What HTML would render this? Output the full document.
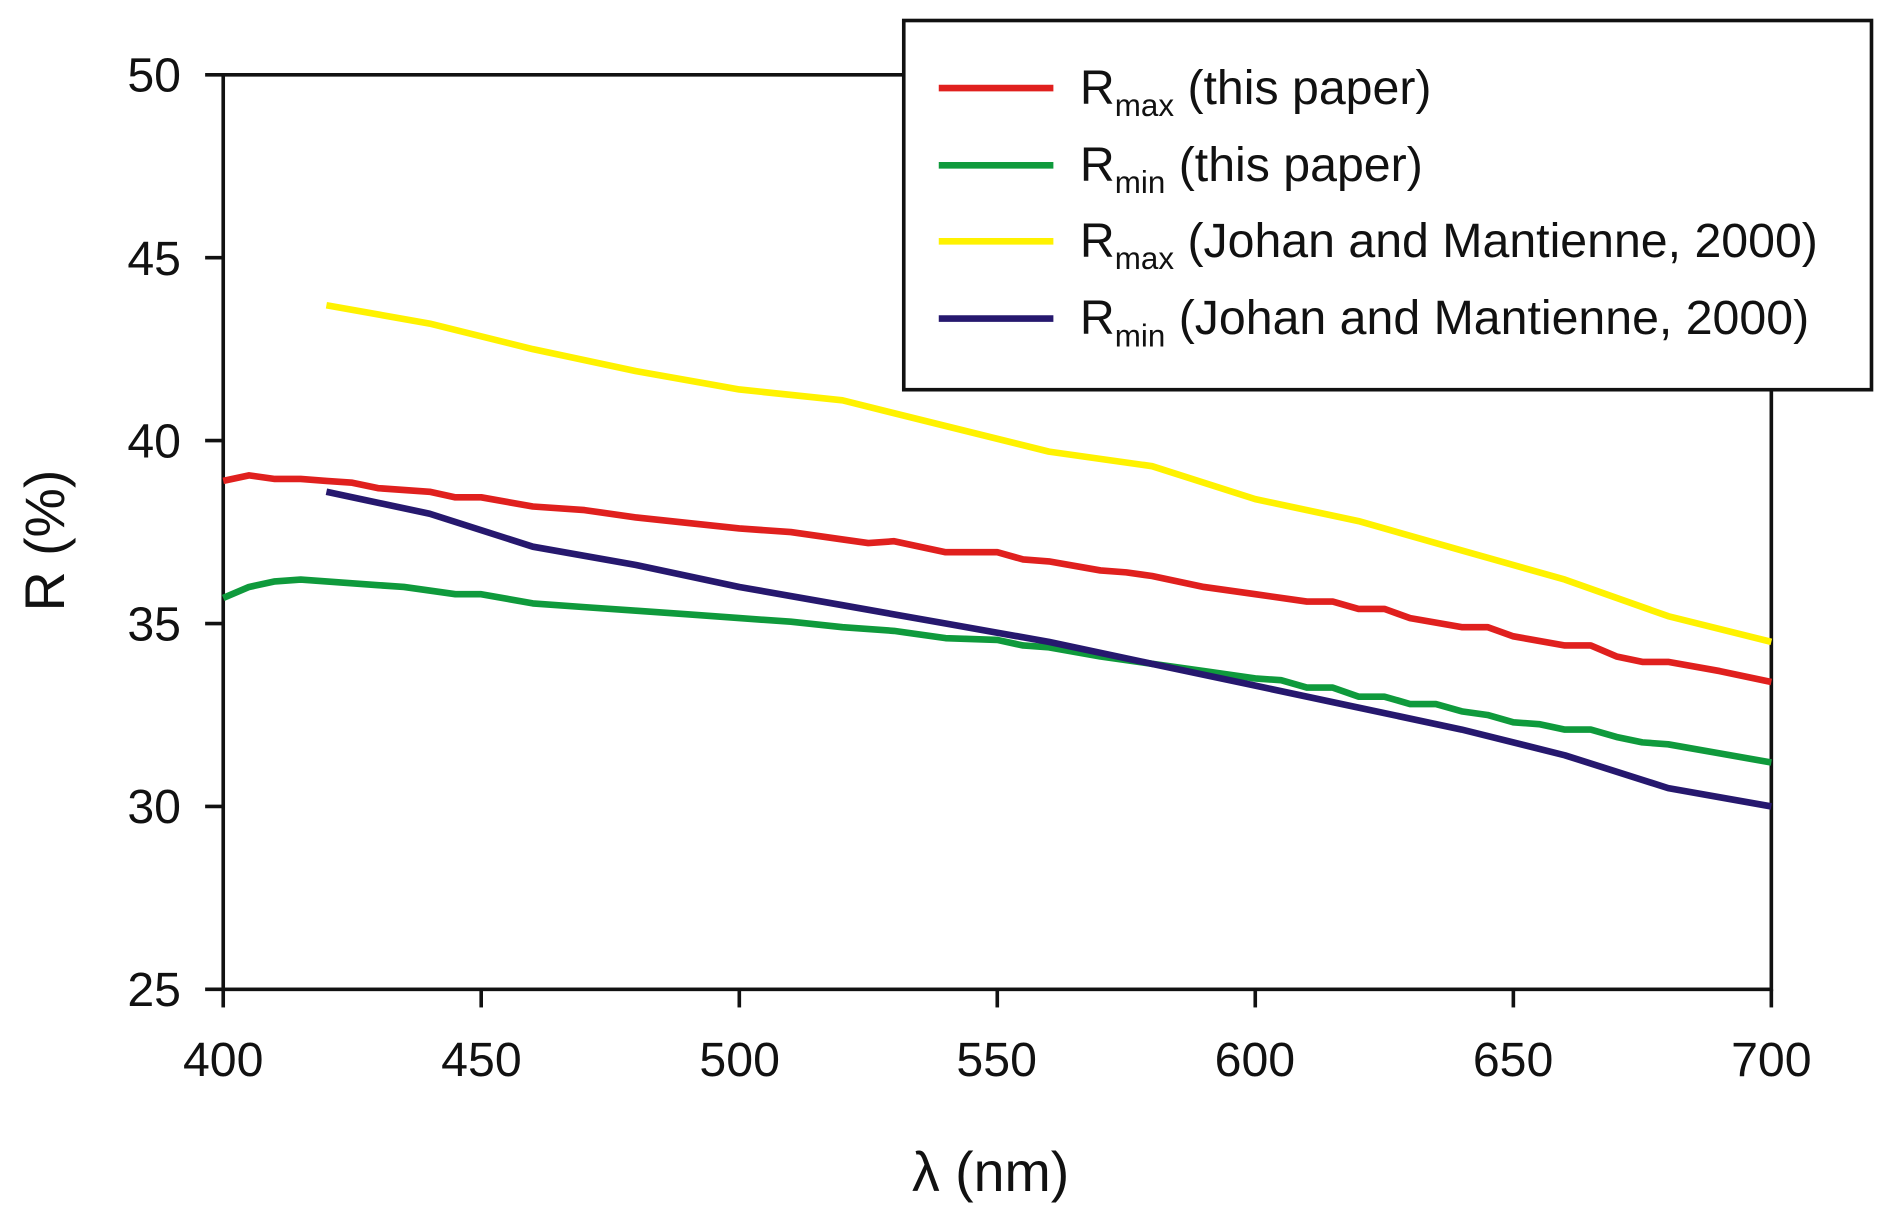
<!DOCTYPE html>
<html><head><style>html,body{margin:0;padding:0;background:#fff}svg{display:block}</style></head>
<body>
<svg id="s" width="1892" height="1221" viewBox="0 0 1568 1012" preserveAspectRatio="none" xmlns="http://www.w3.org/2000/svg" font-family="Liberation Sans, Arial, sans-serif">
<rect x="185" y="62" width="1283" height="758" fill="none" stroke="#111" stroke-width="3"/>
<g stroke="#111" stroke-width="3">
<line x1="170" y1="62" x2="185" y2="62"/><line x1="170" y1="213.6" x2="185" y2="213.6"/><line x1="170" y1="365.2" x2="185" y2="365.2"/><line x1="170" y1="516.8" x2="185" y2="516.8"/><line x1="170" y1="668.4" x2="185" y2="668.4"/><line x1="170" y1="820" x2="185" y2="820"/>
<line x1="185" y1="820" x2="185" y2="835"/><line x1="398.8" y1="820" x2="398.8" y2="835"/><line x1="612.7" y1="820" x2="612.7" y2="835"/><line x1="826.5" y1="820" x2="826.5" y2="835"/><line x1="1040.3" y1="820" x2="1040.3" y2="835"/><line x1="1254.2" y1="820" x2="1254.2" y2="835"/><line x1="1468" y1="820" x2="1468" y2="835"/>
</g>
<g font-size="40" fill="#111" text-anchor="end">
<text x="150" y="76">50</text><text x="150" y="228">45</text><text x="150" y="379">40</text><text x="150" y="531">35</text><text x="150" y="682">30</text><text x="150" y="834">25</text>
</g>
<g font-size="40" fill="#111" text-anchor="middle">
<text x="185" y="892">400</text><text x="399" y="892">450</text><text x="613" y="892">500</text><text x="826" y="892">550</text><text x="1040" y="892">600</text><text x="1254" y="892">650</text><text x="1468" y="892">700</text>
</g>
<text x="821" y="987" font-size="46" fill="#111" text-anchor="middle">λ (nm)</text>
<text transform="translate(53,448) rotate(-90)" font-size="46" fill="#111" text-anchor="middle">R (%)</text>
<g id="lines" fill="none" stroke-width="5.5" stroke-linejoin="round"></g>
<rect x="749" y="17" width="802" height="306" fill="#fff" stroke="#111" stroke-width="3"/>
<g stroke-width="5.5">
<line x1="778" y1="73" x2="873" y2="73" stroke="#e0201e"/>
<line x1="778" y1="137" x2="873" y2="137" stroke="#0f9a3c"/>
<line x1="778" y1="200" x2="873" y2="200" stroke="#fff200"/>
<line x1="778" y1="264" x2="873" y2="264" stroke="#26186e"/>
</g>
<g font-size="40" fill="#111">
<text x="895" y="86">R<tspan font-size="26" dy="10">max</tspan><tspan dy="-10"> (this paper)</tspan></text>
<text x="895" y="150">R<tspan font-size="26" dy="10">min</tspan><tspan dy="-10"> (this paper)</tspan></text>
<text x="895" y="213">R<tspan font-size="26" dy="10">max</tspan><tspan dy="-10"> (Johan and Mantienne, 2000)</tspan></text>
<text x="895" y="277">R<tspan font-size="26" dy="10">min</tspan><tspan dy="-10"> (Johan and Mantienne, 2000)</tspan></text>
</g>
</svg>
<script>
const X=v=>185+(v-400)*1283/300, Y=v=>62+(50-v)*30.32;
const S=[
["#fff200",[[420,43.7],[440,43.2],[460,42.5],[480,41.9],[500,41.4],[520,41.1],[540,40.4],[560,39.7],[580,39.3],[600,38.4],[620,37.8],[640,37.0],[660,36.2],[680,35.2],[700,34.5]]],
["#e0201e",[[400,38.9],[405,39.05],[410,38.95],[415,38.95],[420,38.9],[425,38.85],[430,38.7],[440,38.6],[445,38.45],[450,38.45],[460,38.2],[470,38.1],[480,37.9],[490,37.75],[500,37.6],[510,37.5],[520,37.3],[525,37.2],[530,37.25],[540,36.95],[550,36.95],[555,36.75],[560,36.7],[570,36.45],[575,36.4],[580,36.3],[590,36.0],[600,35.8],[610,35.6],[615,35.6],[620,35.4],[625,35.4],[630,35.15],[640,34.9],[645,34.9],[650,34.65],[660,34.4],[665,34.4],[670,34.1],[675,33.95],[680,33.95],[690,33.7],[700,33.4]]],
["#0f9a3c",[[400,35.7],[405,36.0],[410,36.15],[415,36.2],[420,36.15],[430,36.05],[435,36.0],[440,35.9],[445,35.8],[450,35.8],[460,35.55],[470,35.45],[480,35.35],[490,35.25],[500,35.15],[510,35.05],[520,34.9],[530,34.8],[540,34.6],[550,34.55],[555,34.4],[560,34.35],[570,34.1],[580,33.9],[590,33.7],[600,33.5],[605,33.45],[610,33.25],[615,33.25],[620,33.0],[625,33.0],[630,32.8],[635,32.8],[640,32.6],[645,32.5],[650,32.3],[655,32.25],[660,32.1],[665,32.1],[670,31.9],[675,31.75],[680,31.7],[690,31.45],[700,31.2]]],
["#26186e",[[420,38.6],[440,38.0],[460,37.1],[480,36.6],[500,36.0],[520,35.5],[540,35.0],[560,34.5],[580,33.9],[600,33.3],[620,32.7],[640,32.1],[660,31.4],[680,30.5],[700,30.0]]]];
const g=document.getElementById('lines');
S.forEach(([c,d])=>{const p=document.createElementNS('http://www.w3.org/2000/svg','polyline');p.setAttribute('points',d.map(q=>X(q[0]).toFixed(1)+','+Y(q[1]).toFixed(1)).join(' '));p.setAttribute('stroke',c);g.appendChild(p);});
</script>
</body></html>
